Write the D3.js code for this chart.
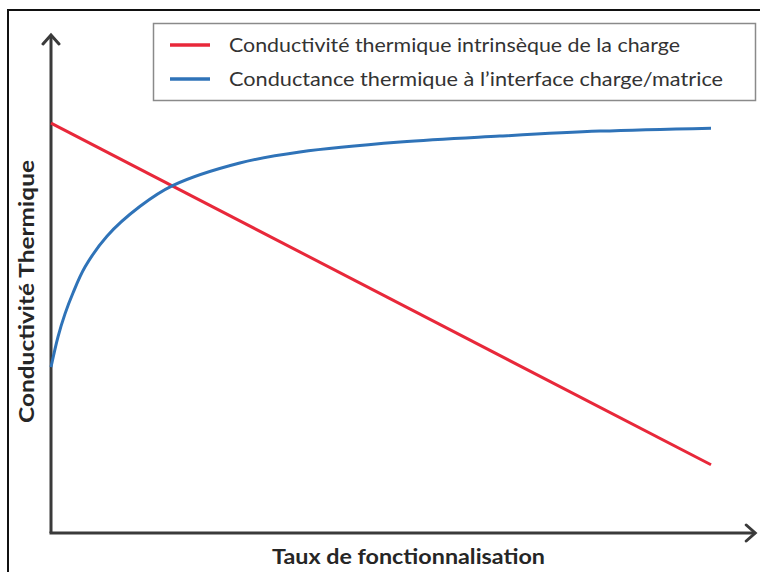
<!DOCTYPE html>
<html>
<head>
<meta charset="utf-8">
<script src="https://cdn.jsdelivr.net/npm/d3@7"></script>
<style>
  html, body { margin: 0; padding: 0; background: #fff; }
  svg { display: block; }
</style>
</head>
<body>
<svg id="chart" width="760" height="572"></svg>
<script>
// Qualitative curves: x = taux de fonctionnalisation, y = conductivité (arbitrary units 0–100)
const seriesNames = [
  "Conductivité thermique intrinsèque de la charge",
  "Conductance thermique à l’interface charge/matrice"
];
const seriesColors = ["#e8283a", "#2f73b8"];

const intrinsicX = [0, 100];
const intrinsicY = [82.3, 13.7];

const interfaceX = [0, 1.06, 2.12, 3.33, 5.15, 8.48, 13.5, 18.5, 28.6, 37.7, 52.9, 68.0, 83.2, 100];
const interfaceY = [33.3, 39.4, 44.0, 48.2, 53.4, 59.6, 65.6, 69.8, 74.3, 76.5, 78.5, 79.7, 80.7, 81.3];

const xTitle = "Taux de fonctionnalisation";
const yTitle = "Conductivité Thermique";

const svg = d3.select("#chart");

const x = d3.scaleLinear().domain([0, 100]).range([51, 711]);
const y = d3.scaleLinear().domain([0, 100]).range([533, 35]);
const xAxisEnd = 106.7;   // axis arrow runs a little past the last data point

// outer frame (top and left edges)
svg.append("path")
  .attr("d", "M8,572 L8,10 L760,10")
  .attr("fill", "none")
  .attr("stroke", "#111")
  .attr("stroke-width", 2);

// arrow head marker
const defs = svg.append("defs");
defs.append("marker")
  .attr("id", "arrow")
  .attr("viewBox", "-12 -10 16 20")
  .attr("refX", 0).attr("refY", 0)
  .attr("markerWidth", 16).attr("markerHeight", 20)
  .attr("markerUnits", "userSpaceOnUse")
  .attr("orient", "auto")
  .append("path")
  .attr("d", "M-9,-8 L0,0 L-9,8")
  .attr("fill", "none")
  .attr("stroke", "#3a3a3a")
  .attr("stroke-width", 3)
  .attr("stroke-linejoin", "miter")
  .attr("stroke-linecap", "round");

// axes: an L shape with arrows at both ends
svg.append("line")
  .attr("x1", x(0)).attr("y1", y(0))
  .attr("x2", x(0)).attr("y2", y(100))
  .attr("stroke", "#3a3a3a").attr("stroke-width", 3)
  .attr("marker-end", "url(#arrow)");
svg.append("line")
  .attr("x1", x(0) - 1.5).attr("y1", y(0))
  .attr("x2", x(xAxisEnd)).attr("y2", y(0))
  .attr("stroke", "#3a3a3a").attr("stroke-width", 3)
  .attr("marker-end", "url(#arrow)");

// curves
const line = d3.line().x(d => x(d[0])).y(d => y(d[1]));
svg.append("path")
  .datum(d3.zip(intrinsicX, intrinsicY))
  .attr("d", line)
  .attr("fill", "none")
  .attr("stroke", seriesColors[0])
  .attr("stroke-width", 3);

svg.append("path")
  .datum(d3.zip(interfaceX, interfaceY))
  .attr("d", line.curve(d3.curveCatmullRom.alpha(0.5)))
  .attr("fill", "none")
  .attr("stroke", seriesColors[1])
  .attr("stroke-width", 3);

// legend
const legend = svg.append("g");
legend.append("rect")
  .attr("x", 153.5).attr("y", 23.5)
  .attr("width", 602).attr("height", 77)
  .attr("fill", "#fff")
  .attr("stroke", "#8a8a8a")
  .attr("stroke-width", 1.5);

const legendRows = [
  { name: seriesNames[0], color: seriesColors[0], cy: 45, len: 451 },
  { name: seriesNames[1], color: seriesColors[1], cy: 79, len: 494 }
];
legendRows.forEach(r => {
  legend.append("line")
    .attr("x1", 170).attr("x2", 210)
    .attr("y1", r.cy).attr("y2", r.cy)
    .attr("stroke", r.color).attr("stroke-width", 3.5);
  legend.append("text")
    .attr("x", 229).attr("y", r.cy + 6.5)
    .attr("font-family", "Lato, 'Open Sans', sans-serif")
    .attr("font-size", 19)
    .attr("fill", "#333")
    .attr("textLength", r.len)
    .attr("lengthAdjust", "spacingAndGlyphs")
    .text(r.name);
});

// axis titles
svg.append("text")
  .attr("x", 408.5).attr("y", 564)
  .attr("text-anchor", "middle")
  .attr("font-family", "Lato, 'Open Sans', sans-serif")
  .attr("font-weight", "bold")
  .attr("font-size", 20)
  .attr("fill", "#262626")
  .attr("textLength", 273)
  .attr("lengthAdjust", "spacingAndGlyphs")
  .text(xTitle);

svg.append("text")
  .attr("transform", "translate(34,291.5) rotate(-90)")
  .attr("text-anchor", "middle")
  .attr("font-family", "Lato, 'Open Sans', sans-serif")
  .attr("font-weight", "bold")
  .attr("font-size", 20)
  .attr("fill", "#262626")
  .attr("textLength", 263)
  .attr("lengthAdjust", "spacingAndGlyphs")
  .text(yTitle);
</script>
</body>
</html>
